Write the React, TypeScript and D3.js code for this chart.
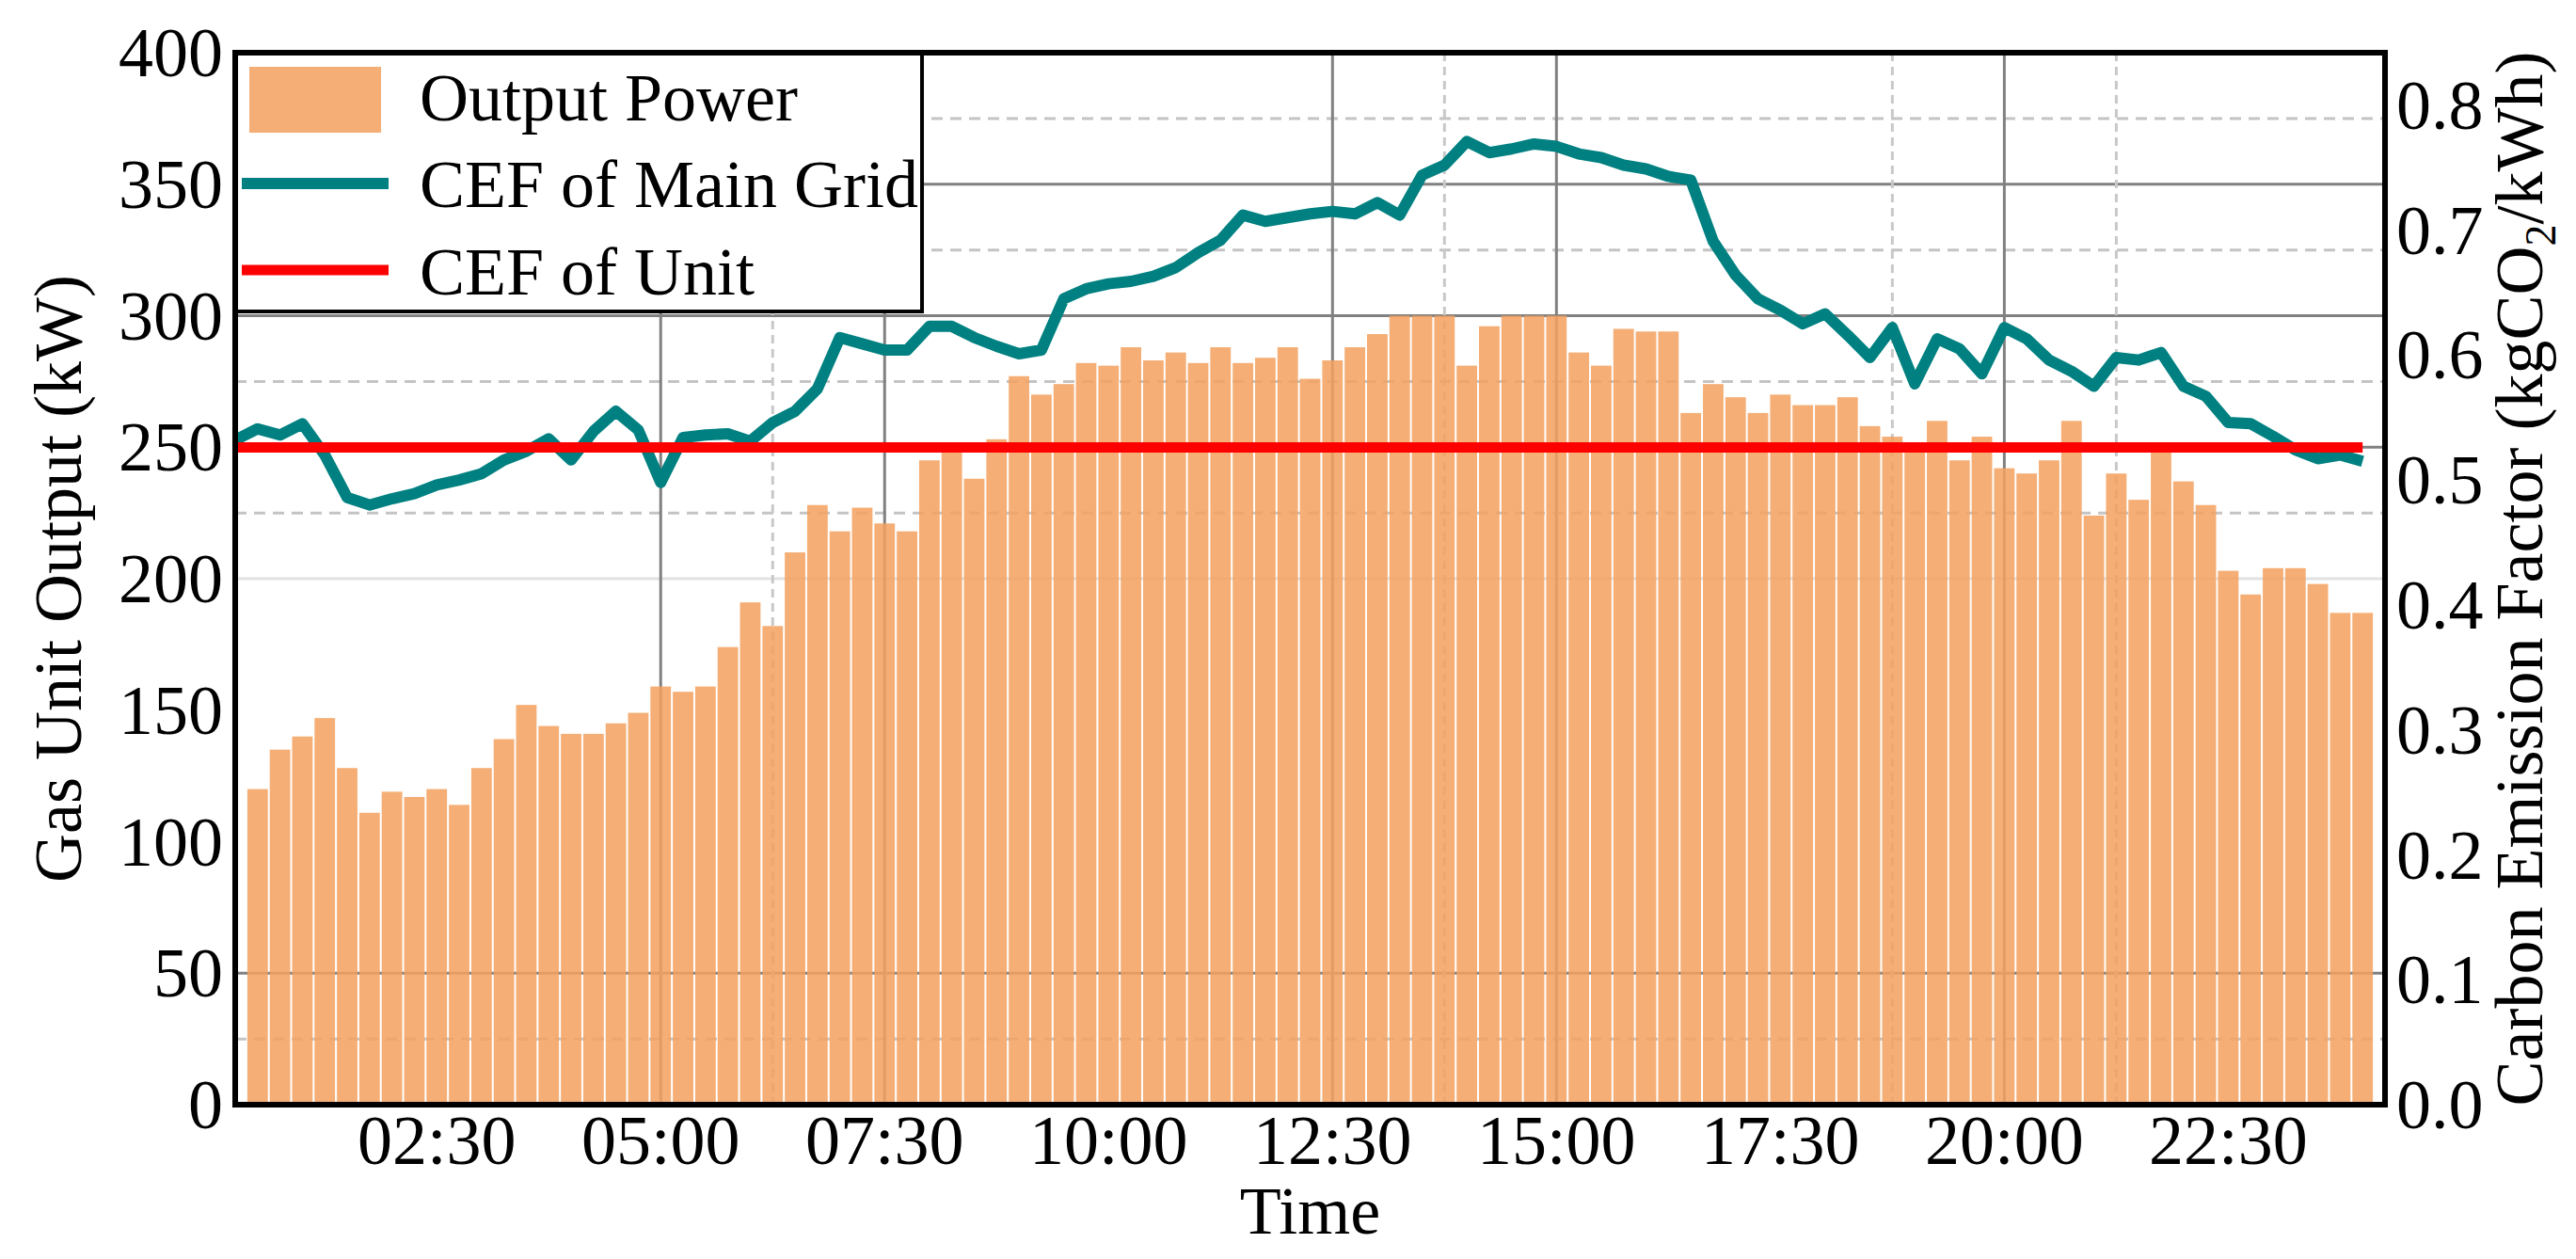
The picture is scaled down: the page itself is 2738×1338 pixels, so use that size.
import * as d3 from "d3";

// 15-min slots: slot j sits at (j+1)*15 min, 00:15 ... 24:00
const outputPower = [
  120, 135, 140, 147, 128, 111, 119, 117, 120, 114,
  128, 139, 152, 144, 141, 141, 145, 149, 159, 157,
  159, 174, 191, 182, 210, 228, 218, 227, 221, 218,
  245, 248, 238, 253, 277, 270, 274, 282, 281, 288,
  283, 286, 282, 288, 282, 284, 288, 276, 283, 288,
  293, 300, 300, 300, 281, 296, 300, 300, 300, 286,
  281, 295, 294, 294, 263, 274, 269, 263, 270, 266,
  266, 269, 258, 254, 249, 260, 245, 254, 242, 240,
  245, 260, 224, 240, 230, 250, 237, 228, 203, 194,
  204, 204, 198, 187, 187,
]; // slots 1..95

const cefGrid = [
  0.532, 0.541, 0.536, 0.545, 0.52, 0.486, 0.48, 0.485, 0.489, 0.496,
  0.5, 0.505, 0.516, 0.523, 0.533, 0.516, 0.539, 0.555, 0.54, 0.498,
  0.534, 0.536, 0.537, 0.531, 0.546, 0.555, 0.573, 0.614, 0.609, 0.604,
  0.604, 0.623, 0.623, 0.614, 0.607, 0.601, 0.604, 0.645, 0.653, 0.657,
  0.659, 0.663, 0.67, 0.682, 0.692, 0.712, 0.707, 0.71, 0.713, 0.715,
  0.713, 0.722, 0.712, 0.744, 0.752, 0.771, 0.762, 0.765, 0.769, 0.767,
  0.761, 0.758, 0.752, 0.749, 0.743, 0.74, 0.691, 0.664, 0.645, 0.636,
  0.625, 0.633, 0.616, 0.598, 0.622, 0.577, 0.613, 0.605, 0.585, 0.622,
  0.613, 0.596, 0.587, 0.575, 0.598, 0.596, 0.602, 0.575, 0.567, 0.546,
  0.545, 0.535, 0.524, 0.517, 0.52, 0.515,
]; // slots 0..95

const cefUnit = 0.526;

const xTickSlots = [9, 19, 29, 39, 49, 59, 69, 79, 89];
const xTickLabels = ["02:30", "05:00", "07:30", "10:00", "12:30", "15:00", "17:30", "20:00", "22:30"];
const leftTicks = [0, 50, 100, 150, 200, 250, 300, 350, 400];
const rightTicks = [0, 0.1, 0.2, 0.3, 0.4, 0.5, 0.6, 0.7, 0.8];

// grid lines as they show up in the figure
const hGridSolid = [50, 250, 300, 350];
const hGridLight = [200];
const hGridDashed = [25, 225, 275, 325, 375];
const vGridSolid = [19, 29, 49, 59, 79];
const vGridDashed = [24, 54, 74, 84];

const W = 2738;
const H = 1338;
const left = 250;
const right = 2535;
const top = 56;
const bottom = 1174;
const font = "'Liberation Serif', 'Times New Roman', serif";

export default function App() {
  const x = d3.scaleLinear().domain([0, 96]).range([left, right]);
  const yL = d3.scaleLinear().domain([0, 400]).range([bottom, top]);
  const yR = d3.scaleLinear().domain([0, 0.842]).range([bottom, top]);
  const slot = x(1) - x(0);

  const gridPath = d3
    .line<number>()
    .x((_, i) => x(i))
    .y((d) => yR(d))
    .curve(d3.curveLinear);

  return (
    <div>
      <style>{`body{margin:0}`}</style>
      <svg width={W} height={H} style={{ display: "block", background: "#fff" }} fontFamily={font}>
        {/* grid */}
        <g>
          {hGridLight.map((v) => (
            <line key={"l" + v} x1={left} x2={right} y1={yL(v)} y2={yL(v)} stroke="#e2e2e2" strokeWidth={3} />
          ))}
          {hGridDashed.map((v) => (
            <line key={"d" + v} x1={left} x2={right} y1={yL(v)} y2={yL(v)} stroke="#c4c4c4" strokeWidth={3} strokeDasharray="12,8" />
          ))}
          {hGridSolid.map((v) => (
            <line key={"s" + v} x1={left} x2={right} y1={yL(v)} y2={yL(v)} stroke="#808080" strokeWidth={3} />
          ))}
          {vGridDashed.map((j) => (
            <line key={"vd" + j} x1={x(j)} x2={x(j)} y1={top} y2={bottom} stroke="#c8c8c8" strokeWidth={3} strokeDasharray="9,6" />
          ))}
          {vGridSolid.map((j) => (
            <line key={"vs" + j} x1={x(j)} x2={x(j)} y1={top} y2={bottom} stroke="#808080" strokeWidth={3} />
          ))}
        </g>

        {/* bars */}
        <g fill="#F3A15E" fillOpacity={0.86}>
          {outputPower.map((v, i) => {
            const j = i + 1;
            return (
              <rect
                key={j}
                x={x(j) - slot / 2 + 1}
                width={slot - 2}
                y={yL(v)}
                height={yL(0) - yL(v)}
              />
            );
          })}
        </g>

        {/* lines */}
        <path d={gridPath(cefGrid) || ""} fill="none" stroke="#008080" strokeWidth={12} strokeLinejoin="round" />
        <line x1={x(0)} x2={x(cefGrid.length - 1)} y1={yR(cefUnit)} y2={yR(cefUnit)} stroke="#FF0000" strokeWidth={11} />

        {/* legend */}
        <g>
          <rect x={left} y={top} width={980 - left} height={331 - top} fill="#fff" stroke="#000" strokeWidth={4} />
          <rect x={265} y={71} width={140} height={70} fill="#F3A15E" fillOpacity={0.86} />
          <line x1={257} x2={413} y1={195} y2={195} stroke="#008080" strokeWidth={12} />
          <line x1={257} x2={413} y1={287} y2={287} stroke="#FF0000" strokeWidth={11} />
          <text x={446} y={128} fontSize={72}>Output Power</text>
          <text x={446} y={220} fontSize={72}>CEF of Main Grid</text>
          <text x={446} y={313} fontSize={72}>CEF of Unit</text>
        </g>

        {/* frame */}
        <rect x={left} y={top} width={right - left} height={bottom - top} fill="none" stroke="#000" strokeWidth={6} />

        {/* left axis */}
        {leftTicks.map((t) => (
          <text key={"yl" + t} x={237} y={yL(t)} dy="0.34em" textAnchor="end" fontSize={74}>
            {t}
          </text>
        ))}
        {/* right axis */}
        {rightTicks.map((t) => (
          <text key={"yr" + t} x={2547} y={yR(t)} dy="0.34em" textAnchor="start" fontSize={74}>
            {t.toFixed(1)}
          </text>
        ))}
        {/* x axis */}
        {xTickSlots.map((j, i) => (
          <text key={"x" + j} x={x(j)} y={1237} textAnchor="middle" fontSize={74}>
            {xTickLabels[i]}
          </text>
        ))}

        <text x={(left + right) / 2} y={1311} textAnchor="middle" fontSize={72}>
          Time
        </text>
        <text transform={`translate(86, ${(top + bottom) / 2}) rotate(-90)`} textAnchor="middle" fontSize={72}>
          Gas Unit Output (kW)
        </text>
        <text transform={`translate(2702, ${(top + bottom) / 2}) rotate(-90)`} textAnchor="middle" fontSize={72}>
          Carbon Emission Factor (kgCO
          <tspan fontSize={46} dy={14}>2</tspan>
          <tspan dy={-14}>/kWh)</tspan>
        </text>
      </svg>
    </div>
  );
}
